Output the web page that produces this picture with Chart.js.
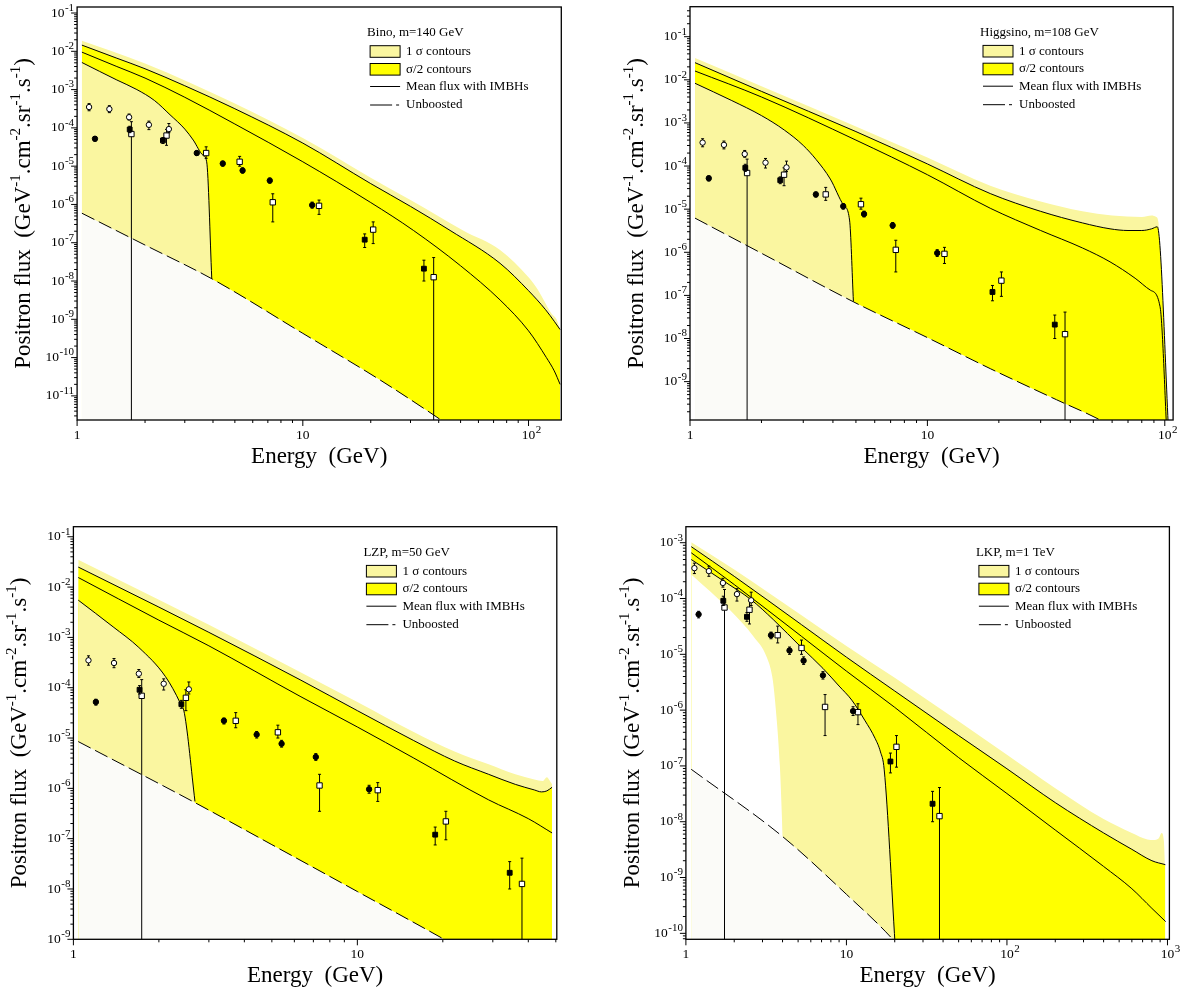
<!DOCTYPE html>
<html lang="en">
<head>
  <meta charset="UTF-8">
  <title>Positron flux</title>
  <script src="https://cdn.jsdelivr.net/npm/chart.js"></script>
  <style>
    body { margin: 0; background-color: #fff; }
    .painel { position: absolute; }
  </style>
</head>
<body>
  <canvas id="graficoBino" class="painel" width="590" height="480" style="left:0;top:0"></canvas>
  <canvas id="graficoHiggsino" class="painel" width="590" height="480" style="left:590px;top:0"></canvas>
  <canvas id="graficoLzp" class="painel" width="590" height="509" style="left:0;top:480px"></canvas>
  <canvas id="graficoLkp" class="painel" width="590" height="509" style="left:590px;top:480px"></canvas>

<script>
  // dados experimentais (iguais nos quatro graficos)
  const energiaCirculoAberto = [1.13, 1.39, 1.70, 2.08, 2.55];
  const fluxoCirculoAberto = [3.5e-4, 3.1e-4, 1.9e-4, 1.2e-4, 9.3e-5];
  const fluxoCirculoAbertoMin = [2.8e-4, 2.5e-4, 1.6e-4, 9.0e-5, 7.5e-5];
  const fluxoCirculoAbertoMax = [4.3e-4, 3.8e-4, 2.3e-4, 1.5e-4, 1.3e-4];

  const energiaCirculoCheio = [1.20, 3.39, 4.42, 5.41, 7.14, 11.0];
  const fluxoCirculoCheio = [5.2e-5, 2.2e-5, 1.17e-5, 7.7e-6, 4.2e-6, 9.6e-7];
  const fluxoCirculoCheioMin = [4.5e-5, 1.9e-5, 1.0e-5, 6.6e-6, 3.6e-6, 8.0e-7];
  const fluxoCirculoCheioMax = [5.9e-5, 2.5e-5, 1.35e-5, 9.0e-6, 4.9e-6, 1.15e-6];

  const energiaQuadradoCheio = [1.71, 2.40, 18.8, 34.4];
  const fluxoQuadradoCheio = [9.1e-5, 4.7e-5, 1.2e-7, 2.1e-8];
  const fluxoQuadradoCheioMin = [7.5e-5, 3.9e-5, 7.5e-8, 1.0e-8];
  const fluxoQuadradoCheioMax = [1.1e-4, 5.6e-5, 1.7e-7, 3.5e-8];

  const energiaQuadradoAberto = [1.74, 2.49, 3.73, 5.25, 7.36, 11.8, 20.5, 38.0];
  const fluxoQuadradoAberto = [6.9e-5, 6.3e-5, 2.2e-5, 1.3e-5, 1.14e-6, 9.2e-7, 2.2e-7, 1.26e-8];
  const fluxoQuadradoAbertoMin = [1e-20, 3.5e-5, 1.6e-5, 1.0e-5, 3.5e-7, 5.5e-7, 9.5e-8, 1e-20];
  const fluxoQuadradoAbertoMax = [1.45e-4, 9.1e-5, 3.2e-5, 1.8e-5, 1.9e-6, 1.3e-6, 3.5e-7, 4.1e-8];

  // curvas [energia, fluxo] - Bino, m=140 GeV
  const binoClaro = [[1.05, 1.9e-2], [2, 4.8e-3], [5, 4.3e-4], [10, 5.4e-5], [20, 5.0e-6], [30, 1.3e-6], [51.3, 2.1e-7], [74.8, 6.5e-8], [100, 1.26e-8], [110, 5.9e-9], [126, 1.45e-9], [133, 1.0e-9], [138, 5.4e-10]];
  const binoTopo = [[1.05, 1.45e-2], [1.5, 6.6e-3], [2, 3.5e-3], [3, 1.26e-3], [5, 3.16e-4], [10, 4.0e-5], [20, 3.5e-6], [30, 8.9e-7], [44.9, 2.1e-7], [74.8, 2.9e-8], [100, 5.6e-9], [119, 1.78e-9], [130, 8.9e-10], [138, 5.4e-10]];
  const binoMedia = [[1.05, 9.5e-3], [1.5, 4.0e-3], [2, 2.0e-3], [3, 6.3e-4], [5, 1.26e-4], [10, 1.3e-5], [20, 1.12e-6], [30.9, 2.1e-7], [50, 2.5e-8], [74.8, 3.2e-9], [100, 5.0e-10], [120, 1.0e-10], [130, 4.5e-11], [138, 2.0e-11]];
  const binoInferior = [[1.05, 5.1e-3], [1.5, 1.78e-3], [1.84, 1.0e-3], [2.2, 5.2e-4], [2.58, 2.2e-4], [3.0, 9.3e-5], [3.27, 4.8e-5], [3.62, 1.9e-5], [3.75, 1.3e-5], [3.95, 1.17e-8]];
  const binoSemReforco = [[1.05, 5.9e-7], [2, 8.7e-8], [3.98, 1.12e-8], [10, 4.3e-10], [22, 2.6e-11], [37.9, 3.2e-12], [45, 1.6e-12]];

  // Higgsino, m=108 GeV
  const higgsinoClaro = [[1.05, 3.2e-2], [2, 7.1e-3], [5, 8.3e-4], [10, 1.58e-4], [18.4, 3.5e-5], [30, 1.5e-5], [45, 8.9e-6], [60, 7.1e-6], [80, 6.6e-6], [88, 7.1e-6], [92, 6.6e-6], [94, 5.0e-6], [95.5, 5.0e-7]];
  const higgsinoTopo = [[1.05, 2.5e-2], [2, 5.4e-3], [5, 6.3e-4], [10, 1.12e-4], [18.4, 2.3e-5], [30, 8.9e-6], [45, 4.8e-6], [58.8, 3.5e-6], [70, 3.2e-6], [80, 3.2e-6], [88, 3.5e-6], [93, 3.9e-6], [104.5, 3.2e-11]];
  const higgsinoMedia = [[1.05, 1.6e-2], [2, 4.0e-3], [5, 4.0e-4], [10, 6.3e-5], [18.4, 1.05e-5], [30, 3.2e-6], [45, 1.26e-6], [58.8, 6.0e-7], [75, 2.5e-7], [87, 1.32e-7], [95.5, 5.5e-8], [102.6, 3.2e-11]];
  const higgsinoInferior = [[1.05, 8.3e-3], [1.5, 3.3e-3], [2, 1.48e-3], [2.5, 6.8e-4], [3, 3.0e-4], [3.4, 1.41e-4], [3.9, 5.0e-5], [4.44, 1.23e-5], [4.7, 5.6e-6], [4.88, 7.1e-8]];
  const higgsinoSemReforco = [[1.05, 6.2e-6], [2, 9.5e-7], [4.88, 7.1e-8], [10, 1.05e-8], [18.4, 2.0e-9], [35, 3.8e-10], [53.3, 1.3e-10], [60, 8.9e-11]];

  // LZP, m=50 GeV
  const lzpClaro = [[1.04, 3.5e-2], [2, 5.6e-3], [3, 1.78e-3], [6.33, 2.0e-4], [10, 5.2e-5], [15.8, 1.32e-5], [22, 5.4e-6], [29, 3.0e-6], [36, 1.9e-6], [42, 1.5e-6], [45, 1.4e-6], [46.5, 1.66e-6], [47.5, 1.45e-6], [48.5, 1.2e-6]];
  const lzpTopo = [[1.04, 2.5e-2], [2, 4.0e-3], [3, 1.26e-3], [6.33, 1.41e-4], [10, 3.5e-5], [15.8, 8.9e-6], [22, 3.5e-6], [29, 1.9e-6], [36, 1.2e-6], [42, 9.3e-7], [44.5, 8.5e-7], [46.5, 8.9e-7], [48.5, 1.05e-6]];
  const lzpMedia = [[1.04, 1.55e-2], [2, 2.2e-3], [3, 6.8e-4], [6.33, 6.6e-5], [10, 1.66e-5], [15.8, 4.0e-6], [29, 5.9e-7], [40, 2.5e-7], [48.5, 1.3e-7]];
  const lzpInferior = [[1.04, 5.5e-3], [1.38, 1.62e-3], [1.7, 6.3e-4], [2.11, 1.66e-4], [2.38, 4.9e-5], [2.46, 3.1e-5], [2.68, 5.5e-7]];
  const lzpSemReforco = [[1.04, 8.5e-6], [2.68, 5.2e-7], [5, 7.6e-8], [10, 8.9e-9], [20.2, 1.0e-9], [25, 5.0e-10]];

  // LKP, m=1 TeV
  const lkpClaro = [[1.08, 1.02e-3], [2, 3.3e-4], [5.25, 5.0e-5], [10, 1.41e-5], [20, 3.8e-6], [50, 6.3e-7], [100, 1.58e-7], [200, 4.0e-8], [400, 1.12e-8], [600, 6.3e-9], [750, 4.8e-9], [820, 4.7e-9], [880, 5.0e-9], [920, 6.3e-9], [950, 4.5e-9], [965, 1.6e-9]];
  const lkpTopo = [[1.08, 8.5e-4], [2, 2.5e-4], [5.25, 3.4e-5], [10, 8.9e-6], [20, 2.2e-6], [50, 3.5e-7], [100, 8.9e-8], [200, 2.2e-8], [400, 6.3e-9], [600, 3.2e-9], [800, 2.0e-9], [970, 1.7e-9]];
  const lkpMedia = [[1.08, 6.6e-4], [2, 1.78e-4], [5.25, 2.1e-5], [10, 5.0e-6], [20, 1.12e-6], [50, 1.41e-7], [100, 3.2e-8], [200, 7.1e-9], [400, 1.58e-9], [600, 6.3e-10], [800, 2.8e-10], [975, 1.62e-10]];
  const lkpInferior = [[1.08, 5.0e-4], [1.7, 2.1e-4], [2.55, 9.5e-5], [3.5, 4.2e-5], [5.25, 1.32e-5], [7.14, 5.6e-6], [9, 2.7e-6], [10.8, 1.51e-6], [13, 6.6e-7], [15.1, 3.1e-7], [16.3, 1.78e-7], [17.2, 8.5e-8], [20.1, 6.3e-11]];
  const lkpLimiteClaro = [[1.08, 2.7e-4], [1.88, 6.2e-5], [2.63, 2.1e-5], [3.19, 8.9e-6], [3.45, 4.0e-6], [3.59, 1.51e-6], [3.85, 1.0e-7], [4.01, 5.4e-9]];
  const lkpSemReforco = [[1.08, 8.7e-8], [4.01, 5.4e-9], [10, 5.0e-10], [19.2, 8.1e-11], [22, 5.0e-11]];

  const AMARELO_CLARO = '#faf6a0';
  const AMARELO = '#ffff00';
  const QUASE_BRANCO = '#fbfbf8';
  const FONTE = '"Liberation Serif", "Times New Roman", serif';

  function pares(lista) {
    return lista.map(p => ({ x: p[0], y: p[1] }));
  }

  function curva(lista, cor, preenche, ordem, tracejado) {
    return {
      data: pares(lista),
      borderColor: cor,
      borderWidth: 1,
      borderDash: tracejado ? [14, 5] : [],
      backgroundColor: preenche || 'transparent',
      fill: preenche ? 'start' : false,
      pointRadius: 0,
      cubicInterpolationMode: 'monotone',
      order: ordem
    };
  }

  function marcador(energias, fluxos, minimos, maximos, estilo, raio, cheio, ordem) {
    return {
      data: energias.map((e, i) => ({ x: e, y: fluxos[i] })),
      showLine: false,
      pointStyle: estilo,
      pointRadius: raio,
      pointBackgroundColor: cheio ? '#000' : '#fff',
      pointBorderColor: '#000',
      pointBorderWidth: 1,
      erroMin: minimos,
      erroMax: maximos,
      order: ordem
    };
  }

  // "10" com expoente
  function potencia(ctx, base, exp, x, y, alinhamento) {
    ctx.font = '13.5px ' + FONTE;
    const wb = ctx.measureText(base).width;
    ctx.font = '11px ' + FONTE;
    const we = exp ? ctx.measureText(exp).width : 0;
    const x0 = alinhamento === 'direita' ? x - wb - we - 0.5 : x - wb / 2;
    ctx.textAlign = 'left';
    ctx.textBaseline = 'middle';
    ctx.font = '13.5px ' + FONTE;
    ctx.fillText(base, x0, y);
    if (exp) {
      ctx.font = '11px ' + FONTE;
      ctx.fillText(exp, x0 + wb + 0.5, y - 5);
    }
  }

  function tituloY(ctx, cx, cy) {
    const partes = [['Positron flux  (GeV', false], ['-1', true], ['.cm', false], ['-2', true], ['.sr', false], ['-1', true], ['.s', false], ['-1', true], [')', false]];
    let total = 0;
    partes.forEach(p => {
      ctx.font = (p[1] ? '15px ' : '23px ') + FONTE;
      total += ctx.measureText(p[0]).width;
    });
    ctx.save();
    ctx.translate(cx, cy);
    ctx.rotate(-Math.PI / 2);
    ctx.textAlign = 'left';
    ctx.textBaseline = 'middle';
    let x = -total / 2;
    partes.forEach(p => {
      ctx.font = (p[1] ? '15px ' : '23px ') + FONTE;
      ctx.fillText(p[0], x, p[1] ? -8 : 0);
      x += ctx.measureText(p[0]).width;
    });
    ctx.restore();
  }

  const moldura = {
    id: 'moldura',
    // barras de erro antes dos marcadores
    beforeDatasetDraw(chart, args) {
      const ds = chart.data.datasets[args.index];
      if (!ds.erroMin) return;
      const ctx = chart.ctx, a = chart.chartArea;
      const sx = chart.scales.x, sy = chart.scales.y;
      ctx.save();
      ctx.beginPath();
      ctx.rect(a.left, a.top, a.right - a.left, a.bottom - a.top);
      ctx.clip();
      ctx.strokeStyle = '#000';
      ctx.lineWidth = 1;
      ds.data.forEach((p, i) => {
        const x = sx.getPixelForValue(p.x);
        const y1 = sy.getPixelForValue(ds.erroMax[i]);
        const y2 = sy.getPixelForValue(ds.erroMin[i]);
        ctx.beginPath();
        ctx.moveTo(x, y1); ctx.lineTo(x, y2);
        ctx.moveTo(x - 1.5, y1); ctx.lineTo(x + 1.5, y1);
        ctx.moveTo(x - 1.5, y2); ctx.lineTo(x + 1.5, y2);
        ctx.stroke();
      });
      ctx.restore();
    },
    afterDraw(chart, args, opts) {
      const ctx = chart.ctx, a = chart.chartArea;
      const sx = chart.scales.x, sy = chart.scales.y;
      ctx.save();
      ctx.strokeStyle = '#000';
      ctx.fillStyle = '#000';
      ctx.lineWidth = 1.3;
      ctx.strokeRect(a.left, a.top, a.right - a.left, a.bottom - a.top);
      ctx.lineWidth = 1;

      // eixo y
      for (let d = Math.floor(Math.log10(sy.min)); d <= Math.ceil(Math.log10(sy.max)); d++) {
        for (let m = 1; m <= 9; m++) {
          const v = m * Math.pow(10, d);
          if (v < sy.min * 0.999 || v > sy.max * 1.001) continue;
          const y = sy.getPixelForValue(v);
          ctx.beginPath();
          ctx.moveTo(a.left - (m === 1 ? 6 : 3), y);
          ctx.lineTo(a.left, y);
          ctx.stroke();
          if (m === 1) potencia(ctx, '10', String(d), a.left - 3, y, 'direita');
        }
      }

      // eixo x
      for (let d = Math.floor(Math.log10(sx.min)); d <= Math.ceil(Math.log10(sx.max)); d++) {
        for (let m = 1; m <= 9; m++) {
          const v = m * Math.pow(10, d);
          if (v < sx.min * 0.999 || v > sx.max * 1.001) continue;
          const x = sx.getPixelForValue(v);
          ctx.beginPath();
          ctx.moveTo(x, a.bottom);
          ctx.lineTo(x, a.bottom + (m === 1 ? 6 : 3));
          ctx.stroke();
          if (m === 1) {
            if (d === 0) potencia(ctx, '1', '', x, a.bottom + 15, 'centro');
            else if (d === 1) potencia(ctx, '10', '', x, a.bottom + 15, 'centro');
            else potencia(ctx, '10', String(d), x, a.bottom + 15, 'centro');
          }
        }
      }

      // titulos dos eixos
      ctx.font = '23px ' + FONTE;
      ctx.textAlign = 'center';
      ctx.textBaseline = 'middle';
      ctx.fillText('Energy  (GeV)', (a.left + a.right) / 2, a.bottom + 37);
      tituloY(ctx, a.left - 53, (a.top + a.bottom) / 2);

      // legenda
      const lx = a.left + 290, ty = a.top;
      ctx.font = '13px ' + FONTE;
      ctx.textAlign = 'left';
      ctx.textBaseline = 'middle';
      ctx.fillText(opts.titulo, lx, ty + 26);

      ctx.fillStyle = AMARELO_CLARO;
      ctx.fillRect(lx + 3, ty + 38.7, 30, 11.6);
      ctx.strokeRect(lx + 3, ty + 38.7, 30, 11.6);
      ctx.fillStyle = AMARELO;
      ctx.fillRect(lx + 3, ty + 56.5, 30, 11.6);
      ctx.strokeRect(lx + 3, ty + 56.5, 30, 11.6);

      ctx.beginPath();
      ctx.moveTo(lx + 3, ty + 79.5);
      ctx.lineTo(lx + 33, ty + 79.5);
      ctx.stroke();

      ctx.setLineDash([22, 4, 3, 50]);
      ctx.beginPath();
      ctx.moveTo(lx + 3, ty + 98);
      ctx.lineTo(lx + 33, ty + 98);
      ctx.stroke();
      ctx.setLineDash([]);

      ctx.fillStyle = '#000';
      ctx.fillText('1 σ contours', lx + 39, ty + 44.5);
      ctx.fillText('σ/2 contours', lx + 39, ty + 62.3);
      ctx.fillText('Mean flux with IMBHs', lx + 39, ty + 79.5);
      ctx.fillText('Unboosted', lx + 39, ty + 98);
      ctx.restore();
    }
  };

  function montarGrafico(idCanvas, c) {
    const conjuntos = [
      curva(c.claro, 'transparent', AMARELO_CLARO, 10),
      curva(c.topo, '#000', AMARELO, 9),
      curva(c.inferior, '#000', AMARELO_CLARO, 8)
    ];
    if (c.limiteClaro) {
      conjuntos.push(curva(c.limiteClaro, 'transparent', '#fff', 7));
    }
    conjuntos.push(curva(c.semReforco, '#000', QUASE_BRANCO, 6, true));
    conjuntos.push(curva(c.media, '#000', null, 5));
    conjuntos.push(marcador(energiaQuadradoAberto, fluxoQuadradoAberto, fluxoQuadradoAbertoMin, fluxoQuadradoAbertoMax, 'rect', 3.8, false, 4));
    conjuntos.push(marcador(energiaQuadradoCheio, fluxoQuadradoCheio, fluxoQuadradoCheioMin, fluxoQuadradoCheioMax, 'rect', 3.4, true, 3));
    conjuntos.push(marcador(energiaCirculoCheio, fluxoCirculoCheio, fluxoCirculoCheioMin, fluxoCirculoCheioMax, 'circle', 2.7, true, 2));
    conjuntos.push(marcador(energiaCirculoAberto, fluxoCirculoAberto, fluxoCirculoAbertoMin, fluxoCirculoAbertoMax, 'circle', 2.7, false, 1));

    return new Chart(document.getElementById(idCanvas), {
      type: 'line',
      data: { datasets: conjuntos },
      options: {
        responsive: false,
        animation: false,
        events: [],
        layout: { padding: { left: 0, top: c.area.topo, right: c.area.direita, bottom: 0 } },
        scales: {
          x: {
            type: 'logarithmic', min: c.xMin, max: c.xMax,
            afterFit: s => { s.height = c.area.baixo; },
            ticks: { display: false }, grid: { display: false }, border: { display: false }
          },
          y: {
            type: 'logarithmic', min: c.yMin, max: c.yMax,
            afterFit: s => { s.width = c.area.esquerda; },
            ticks: { display: false }, grid: { display: false }, border: { display: false }
          }
        },
        plugins: {
          legend: { display: false },
          tooltip: { enabled: false },
          moldura: { titulo: c.titulo }
        }
      },
      plugins: [moldura]
    });
  }

  let grafico1 = montarGrafico('graficoBino', {
    titulo: 'Bino, m=140 GeV',
    claro: binoClaro, topo: binoTopo, media: binoMedia, inferior: binoInferior, semReforco: binoSemReforco,
    xMin: 1, xMax: 139.7, yMin: Math.pow(10, -11.63), yMax: Math.pow(10, -0.843),
    area: { esquerda: 77.1, topo: 7, direita: 28.7, baixo: 60 }
  });

  let grafico2 = montarGrafico('graficoHiggsino', {
    titulo: 'Higgsino, m=108 GeV',
    claro: higgsinoClaro, topo: higgsinoTopo, media: higgsinoMedia, inferior: higgsinoInferior, semReforco: higgsinoSemReforco,
    xMin: 1, xMax: 108.4, yMin: Math.pow(10, -9.89), yMax: Math.pow(10, -0.304),
    area: { esquerda: 100, topo: 6.7, direita: 6.9, baixo: 60 }
  });

  let grafico3 = montarGrafico('graficoLzp', {
    titulo: 'LZP, m=50 GeV',
    claro: lzpClaro, topo: lzpTopo, media: lzpMedia, inferior: lzpInferior, semReforco: lzpSemReforco,
    xMin: 1, xMax: 50.4, yMin: 1e-9, yMax: Math.pow(10, -0.80),
    area: { esquerda: 73.4, topo: 46.7, direita: 33.2, baixo: 49.7 }
  });

  let grafico4 = montarGrafico('graficoLkp', {
    titulo: 'LKP, m=1 TeV',
    claro: lkpClaro, topo: lkpTopo, media: lkpMedia, inferior: lkpInferior, limiteClaro: lkpLimiteClaro, semReforco: lkpSemReforco,
    xMin: 1, xMax: 1028, yMin: Math.pow(10, -10.107), yMax: Math.pow(10, -2.713),
    area: { esquerda: 95.9, topo: 46.7, direita: 10.6, baixo: 49.7 }
  });
</script>
</body>
</html>
